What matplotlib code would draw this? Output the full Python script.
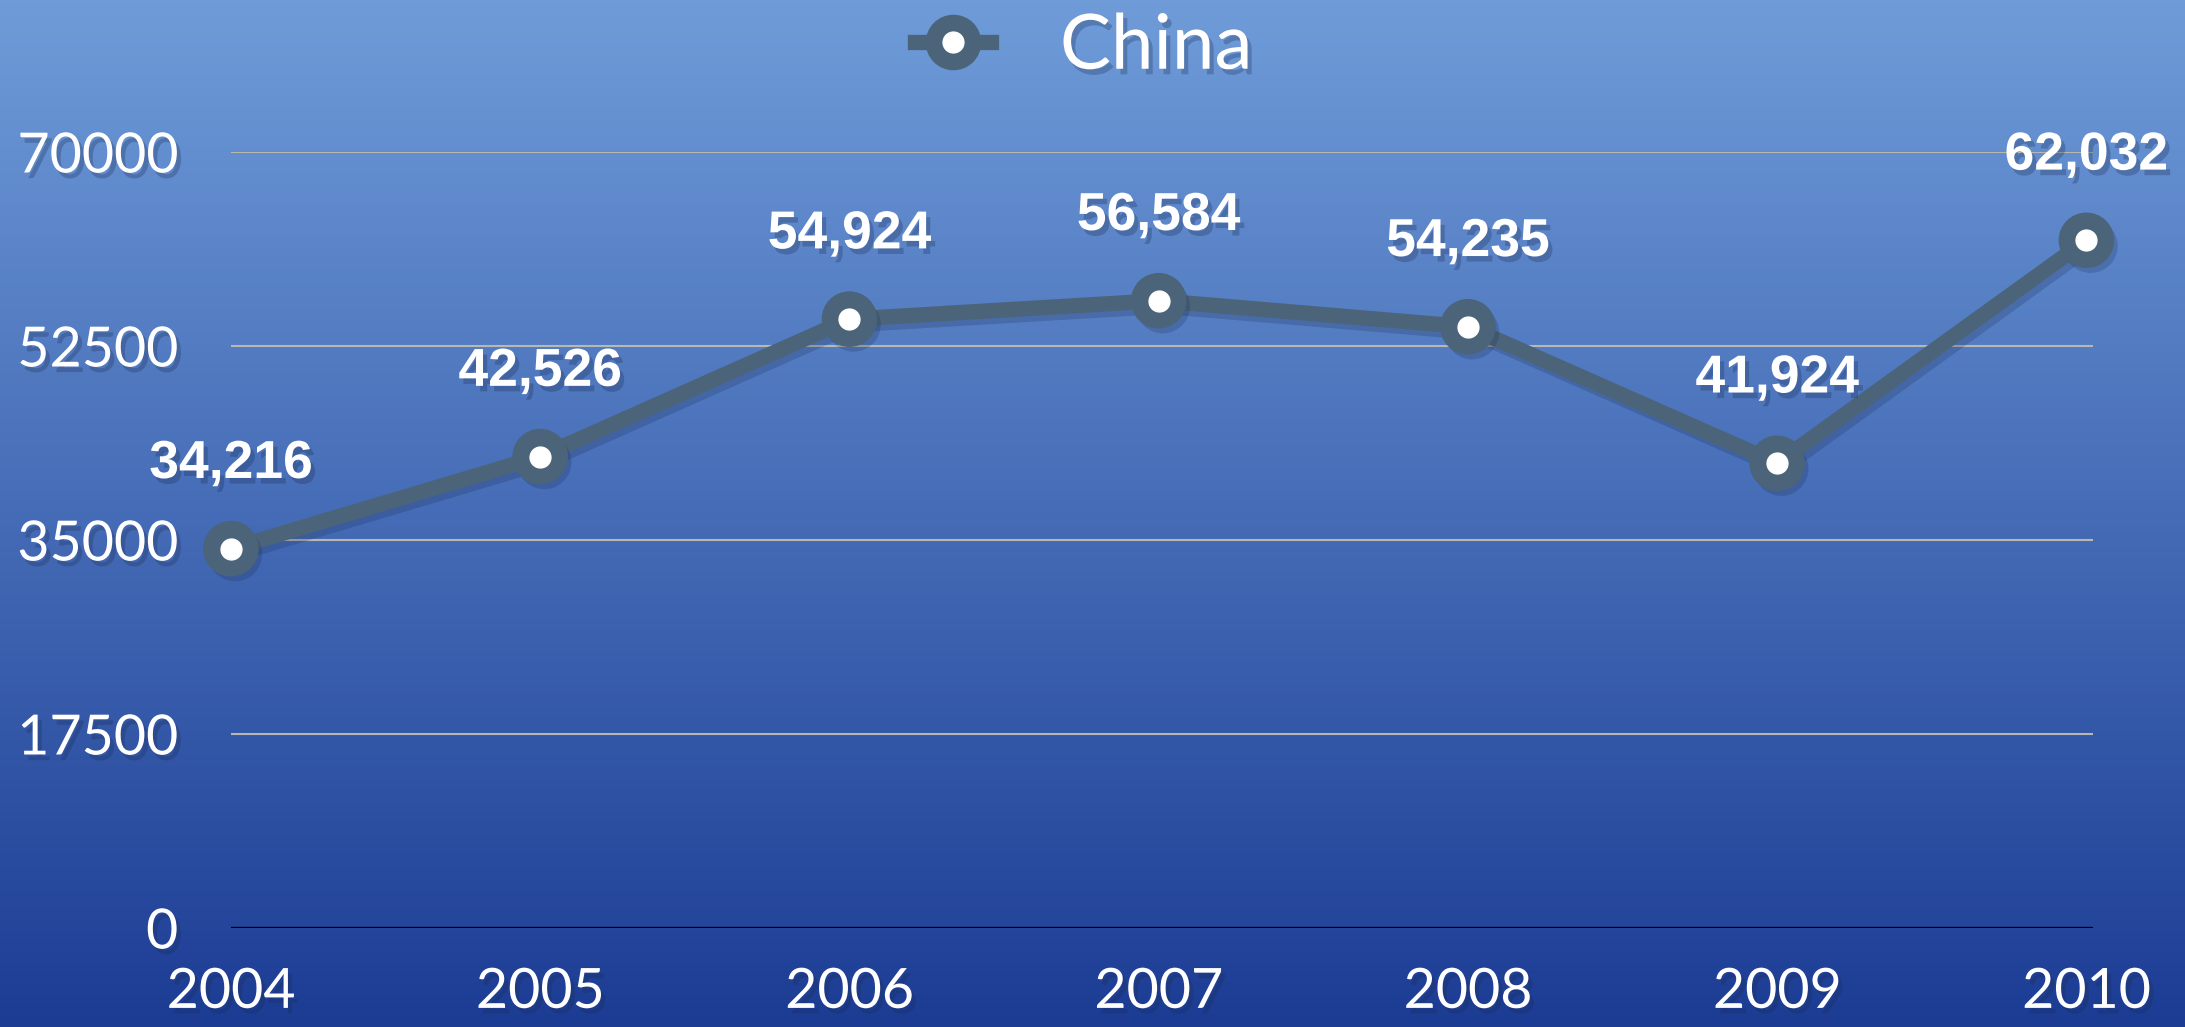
import matplotlib
matplotlib.use('Agg')
import matplotlib.pyplot as plt
import matplotlib.patheffects as pe
from matplotlib.colors import LinearSegmentedColormap
from matplotlib.lines import Line2D
from matplotlib.legend_handler import HandlerTuple
import numpy as np

# Data
years = [2004, 2005, 2006, 2007, 2008, 2009, 2010]
china = [34216, 42526, 54924, 56584, 54235, 41924, 62032]
y_ticks = [0, 17500, 35000, 52500, 70000]

# Colors
BG_TOP = '#6F9CD9'
BG_BOTTOM = '#1C3C94'
LINE_COLOR = '#4B6479'
GRID_COLOR = '#B9B8B0'

text_shadow = [pe.SimplePatchShadow(offset=(3, -4), shadow_rgbFace='#1a2a50', alpha=0.28), pe.Normal()]
line_shadow = [pe.SimpleLineShadow(offset=(3, -4), shadow_color='#1a2a50', alpha=0.22), pe.Normal()]
mark_shadow = [pe.SimplePatchShadow(offset=(3, -4), shadow_rgbFace='#1a2a50', alpha=0.22), pe.Normal()]

fig = plt.figure(figsize=(21.85, 10.27), dpi=100)

# Gradient background
bg = fig.add_axes([0, 0, 1, 1], zorder=-10)
cmap = LinearSegmentedColormap.from_list('bg', [BG_TOP, BG_BOTTOM])
bg.imshow(np.linspace(0, 1, 256).reshape(-1, 1), aspect='auto', cmap=cmap, extent=[0, 1, 0, 1])
bg.axis('off')

ax = fig.add_axes([0.1057, 0.0964, 0.852, 0.7556])
ax.patch.set_alpha(0)
for spine in ax.spines.values():
    spine.set_visible(False)

ax.set_xlim(2004, 2010.02)
ax.set_ylim(0, 70000)

# Gridlines
for t in y_ticks[1:]:
    ax.axhline(t, color=GRID_COLOR, lw=1.5, zorder=1)
ax.axhline(0, color='black', lw=2.4, zorder=1)

# Series
ax.plot(years, china, color=LINE_COLOR, lw=11, solid_capstyle='round',
        zorder=3, clip_on=False, path_effects=line_shadow)
ax.plot(years, china, linestyle='none', marker='o', markersize=39, color=LINE_COLOR,
        zorder=3.5, clip_on=False, path_effects=mark_shadow)
ax.plot(years, china, linestyle='none', marker='o', markersize=15,
        color='white', zorder=4, clip_on=False)

for x, v in zip(years, china):
    ax.annotate(f'{v:,}', xy=(x, v), xytext=(0, 61), textcoords='offset points',
                ha='center', va='center', fontsize=38.5, fontweight='bold',
                color='white', family='Liberation Sans', zorder=5,
                path_effects=text_shadow)

ax.set_xticks(years)
ax.set_yticks(y_ticks)
ax.set_yticklabels([str(t) for t in y_ticks])
ax.tick_params(length=0, colors='white', labelsize=40)
ax.tick_params(axis='x', pad=28)
ax.tick_params(axis='y', pad=38)
for lab in ax.get_xticklabels() + ax.get_yticklabels():
    lab.set_family('Lato')
    lab.set_path_effects(text_shadow)

# Legend
h_line = Line2D([], [], color=LINE_COLOR, lw=11, marker='o', markersize=39)
h_dot = Line2D([], [], linestyle='none', marker='o', markersize=15, color='white')
leg = fig.legend([(h_line, h_dot)], ['China'], loc='center', bbox_to_anchor=(0.496, 0.954),
                 handler_map={tuple: HandlerTuple(ndivide=1, pad=0)},
                 frameon=False, handlelength=1.0, handletextpad=0.9,
                 prop={'family': 'Lato', 'size': 55})
for txt in leg.get_texts():
    txt.set_color('white')
    txt.set_path_effects(text_shadow)

fig.savefig('out.png', dpi=100)
